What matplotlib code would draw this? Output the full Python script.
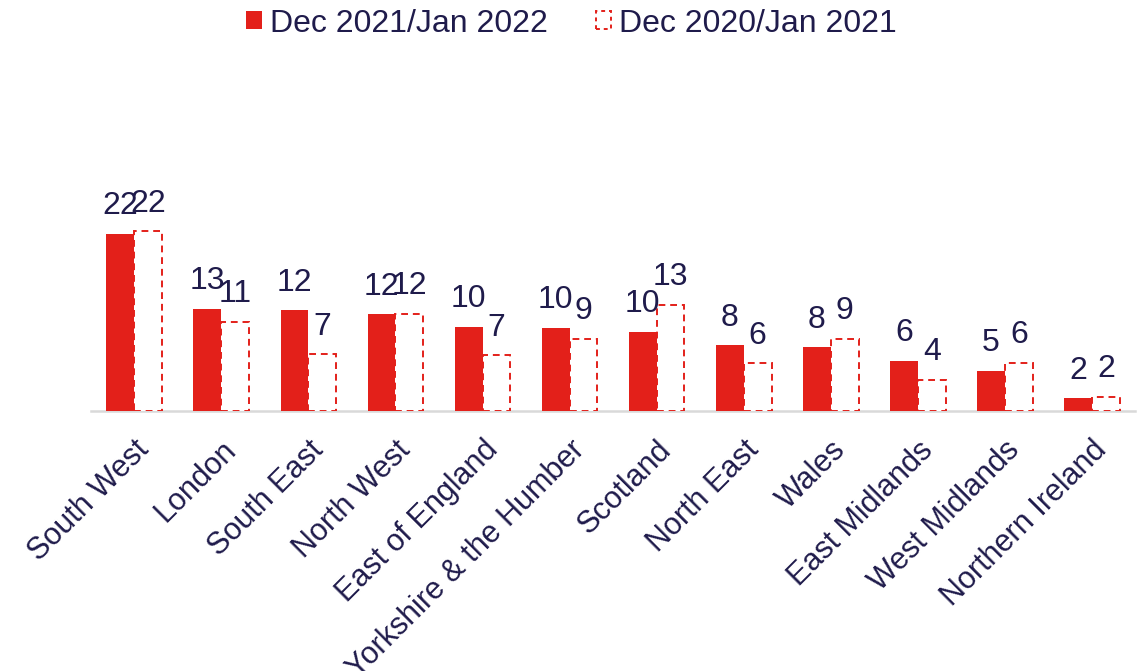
import numpy as np
import matplotlib
matplotlib.use("Agg")
import matplotlib.pyplot as plt
from matplotlib.patches import Patch

plt.rcParams['font.family'] = ['Liberation Sans', 'DejaVu Sans']

regions = ["South West", "London", "South East", "North West", "East of England",
           "Yorkshire & the Humber", "Scotland", "North East", "Wales",
           "East Midlands", "West Midlands", "Northern Ireland"]
latest = [21.8, 12.6, 12.4, 11.9, 10.4, 10.3, 9.8, 8.1, 7.9, 6.2, 5.0, 1.6]
previous = [22.1, 11.0, 7.0, 12.0, 6.9, 8.9, 13.1, 5.9, 8.9, 3.9, 6.0, 1.8]
series_names = ["Dec 2021/Jan 2022", "Dec 2020/Jan 2021"]

RED = "#e3201a"
NAVY = "#1f1b4b"

fig = plt.figure(figsize=(11.43, 6.71), dpi=100)
ax = fig.add_axes([0.0794, 0.3868, 0.914, 0.3644])

x = np.arange(len(regions))
w = 0.32
b1 = ax.bar(x - w / 2, latest, w, color=RED, edgecolor="none", zorder=3)
b2 = ax.bar(x + w / 2, previous, w, facecolor="white", edgecolor=RED,
            linestyle=(0, (3.5, 2.5)), linewidth=1.4, zorder=3)

# rounded values above each bar (neighbouring labels may touch)
for bars in (b1, b2):
    ax.bar_label(bars, labels=[f"{v:.0f}" for v in bars.datavalues],
                 padding=9, fontsize=23, color=NAVY)

ax.set_xlim(-0.5, len(regions) - 0.5)
ax.set_ylim(0, 30)
ax.set_yticks([])
for side in ("left", "right", "top"):
    ax.spines[side].set_visible(False)
ax.spines["bottom"].set_color("#d9d9d9")
ax.spines["bottom"].set_linewidth(1.8)
ax.spines["bottom"].set_zorder(2)

ax.set_xticks(x)
ax.set_xticklabels(regions, rotation=45, ha="right", rotation_mode="anchor",
                   fontsize=22, color=NAVY)
ax.tick_params(axis="x", length=0, pad=17)

handles = [Patch(facecolor=RED, edgecolor="none"),
           Patch(facecolor="white", edgecolor=RED, linestyle=(0, (2, 2)), linewidth=1.4)]
fig.legend(handles, series_names, loc="upper center", bbox_to_anchor=(0.5, 1.03),
           ncol=2, frameon=False, fontsize=23, handlelength=0.5, handleheight=0.5,
           handletextpad=0.25, columnspacing=1.5, labelcolor=NAVY)

fig.savefig("out.png", dpi=100)
